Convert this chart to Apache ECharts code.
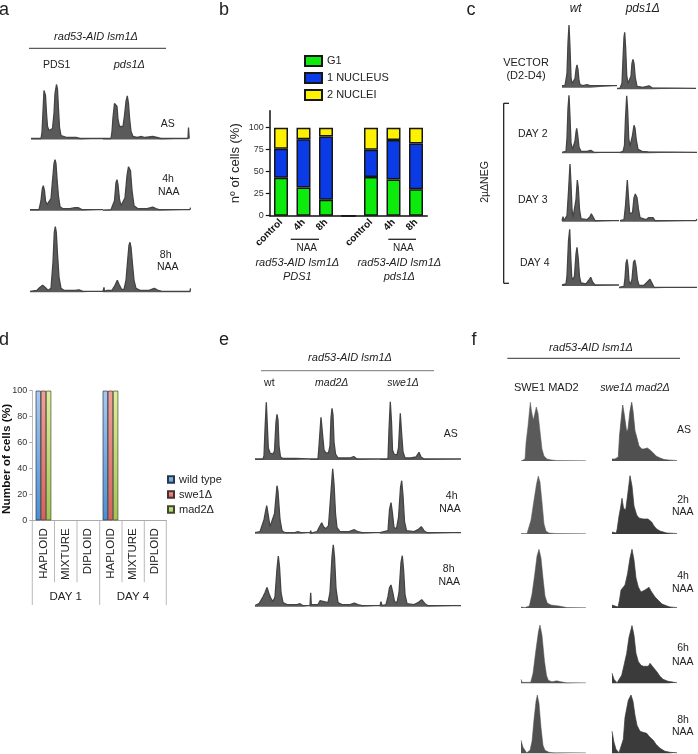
<!DOCTYPE html>
<html><head><meta charset="utf-8">
<style>html,body{margin:0;padding:0;background:#fff}#c{width:698px;height:754px}</style>
<script src="https://cdn.jsdelivr.net/npm/echarts@6/dist/echarts.min.js"></script>
</head><body><div id="c"></div>
<script>
// ---------- panel b values ----------
const bCategories = ['control','4h','8h','','control','4h','8h'];
const bG1 = [43,32,18,0,44,41,30];
const bNucleus1 = [33,55,72,0,31,45,52];
const bNuclei2 = [24,13,10,0,25,14,18];
// ---------- panel d values ----------
const dCategories = ['HAPLOID','MIXTURE','DIPLOID','HAPLOID','MIXTURE','DIPLOID'];
const dWild = [100,0,0,100,0,0];
const dSwe1 = [100,0,0,100,0,0];
const dMad2 = [100,0,0,100,0,0];
const bTicks = [0,25,50,75,100];
// ---------- histograms: [channel, count] ----------
const aAS_PDS1=[[0,1],[1,3],[2,2],[4,1],[10,1],[11,7],[12,28],[13,49],[13.5,51],[14.5,44],[15.5,26],[16.5,13],[18,9],[20,8],[21.5,11],[23,26],[24,46],[25.5,55],[26.5,50],[27.5,30],[28.5,12],[30,4],[32,2],[36,2],[38,3],[41,2],[45,2],[47,3],[49,1],[72,1]];
const aAS_pds1=[[0,1],[8,1],[9,8],[10,22],[11.5,36],[12.7,37.7],[14,33],[15,20],[16.5,13],[18.5,11],[20,13],[21.5,24],[23,38],[24.3,43.7],[25.5,36],[26.5,22],[28,8],[30,3],[34,2],[38.7,3],[42,2],[49.7,3],[54,2],[58,1],[85,1],[85.5,12],[86,12],[86.2,1]];
const a4h_PDS1=[[0,1],[9,1],[10,3],[11,10],[12.3,22],[13.3,25],[14.5,20],[15.5,10],[17,6],[19,6],[21,12],[22.5,30],[24,47],[25,51],[26,47],[27,32],[28.5,14],[30,4],[33,2],[40,2],[45,3],[48,3],[52,1],[73,1]];
const a4h_pds1=[[0,0.5],[1,2],[1.5,0.5],[8,1],[10,3],[11.5,10],[13,28],[14,31],[15,26],[16.5,11],[18,5],[20,5],[22,13],[24,35],[25.5,44],[26.5,46],[27.5,40],[29,20],[31,5],[35,2],[44,2],[49.7,3.5],[53,2],[56,1],[87,1],[87.5,3]];
const a8h_PDS1=[[0,1],[7,2],[10,5],[12.7,7],[15,5],[18,2],[21,4],[23,30],[24.3,60],[25.3,65.6],[26.3,60],[27.5,38],[29,15],[31,4],[34,2],[45,2],[49,2.5],[53,1],[73,1]];
const a8h_pds1=[[0,1],[1,5],[1.5,1],[4,2],[9,2],[12,7],[14.3,12],[16,8],[18.5,3],[21,3],[23,12],[25,36],[26,47],[27,50],[28,45],[29.5,28],[31,12],[33,4],[37,2],[46,2],[51.3,4],[55,2],[59,1],[87,1],[87.5,4]];

const cVEC_wt=[[0,2],[3,2],[4,4],[5,14],[6,45],[7,62.7],[8,40],[9,10],[10,4],[12,3],[13,9],[14,18],[15,22.7],[16,18],[17,7],[18,3],[21,2],[25,3],[28,2],[55,2]];
const cVEC_pds1=[[0,1],[3,1],[5,6],[6,30],[7,52],[7.7,57],[8.7,40],[9.7,14],[11,6],[12.5,5],[14,13],[15,26],[16,30],[17,26],[18.2,12],[20,3],[26,2],[32,3.5],[35,1.5],[79,1]];
const cD2_wt=[[0,1],[1,3],[2,1],[4,2],[5,15],[6,45],[7,58],[8,36],[9,10],[10.5,4],[12,4],[13,12],[14,21],[14.7,25],[15.7,18],[17,6],[19,2],[25,2],[28.7,3],[32,1],[58,1]];
const cD2_pds1=[[0,1],[3,2],[4.5,8],[5.5,35],[6.7,57.6],[7.7,42],[8.7,15],[10,7],[11.5,7],[12.5,18],[14,28],[15,25],[16.2,14],[18,4],[22,2],[28,1.5],[77,1]];
const cD3_wt=[[0,1],[1,5],[2,1],[4,2],[5,6],[6.5,30],[8,57.7],[9,38],[10,12],[11,4],[13,5],[14,22],[15.3,41.7],[16.3,34],[17.5,12],[19,3],[25,2],[28,5],[29.3,8],[31,5],[33,1],[57,1]];
const cD3_pds1=[[0,1],[1,3],[2,1],[4,2],[5.5,16],[7.3,41.7],[8.5,24],[9.7,8],[11,6],[12.5,9],[14,24],[15.3,27.7],[17,24],[18.5,12],[20,4],[26,2],[28.5,4],[30.3,5],[33,4],[35,1],[76,1],[77,2.5]];
const cD4_wt=[[0,1],[1,3],[2,1],[4,2],[5,10],[6.5,45],[7.7,56.7],[8.7,30],[9.7,9],[11,6],[12.5,10],[14,32],[15,38.7],[16.2,28],[17.5,9],[19,3],[24,2],[27,6],[28.7,8.7],[30.5,4],[33,1],[57,1]];
const cD4_pds1=[[0,1],[5,2],[6,10],[7,25],[8,29],[9,22],[10,7],[11.5,4],[13,9],[14.5,26],[15.7,28.3],[17,22],[18.5,8],[20,3],[25,3],[28,6],[30,8],[31,9],[33,5],[35,1],[78,1]];

const eAS_wt=[[0,1],[8,1],[9,4],[10,30],[11.3,57.7],[12.3,35],[13.3,12],[15,7],[18,6],[19.5,9],[21,38],[22,45.7],[23,40],[24,14],[25.5,3],[28,1.5],[40,1.5],[55,1]];
const eAS_mad2=[[0,1],[8,1],[9,14],[11,42.7],[12.5,26],[14,10],[16,7],[18.5,7],[20,14],[21,42],[22,51.7],[23,45],[24,18],[25.5,6],[28,2],[40,2],[43.7,3.5],[47,1],[70,1]];
const eAS_swe1=[[0,1],[8,1],[9,30],[10.3,58.3],[11.5,38],[12.5,10],[14,6],[17,5],[18.5,12],[20.3,46.7],[21.5,28],[23,8],[25,2],[28,2],[29.3,3],[31,2],[36,3],[39,7.7],[41,3],[44,1],[81,1]];
const e4h_wt=[[0,1],[5,2],[7,8],[9,14],[11.7,28],[13,20],[15,7],[17,6],[19.5,20],[22,48],[23,42],[25,14],[27,3],[30,1],[40,1],[42.7,2],[46,1],[55,1]];
const e4h_mad2=[[0,0],[0.7,3],[1.3,0.5],[7,2],[9,6],[11.7,11],[13.5,7],[16,5],[18.5,8],[20.5,35],[22.7,65],[24,50],[25.5,20],[27,6],[30,2],[39,2],[44.3,4],[48,2],[52,1],[70,1]];
const e4h_swe1=[[0,1],[8,3],[9.5,24],[11,31],[12.5,20],[14,6],[16.5,5],[18.5,16],[20.5,46],[21.7,53],[23,38],[24.5,12],[26.5,3],[34,2],[38,4],[41.3,7],[44,3],[47,1],[81,1]];
const e8h_wt=[[0,1],[2,1],[4,3],[6,4],[8,10],[10,14],[12,19.3],[14,13],[16,8],[18,5],[20,10],[22,38],[23.3,50.7],[24.5,40],[26,14],[28,4],[32,2],[42,2],[45,3],[48,1],[55,1]];
const e8h_mad2=[[0,1],[0.7,14],[1.3,2],[3,3],[8,2],[10,6],[11.7,7],[14,5],[18,4],[20,14],[22,50],[23.3,62],[24.5,50],[26,18],[28,4],[32,2],[40,2],[44.3,3.5],[48,2],[52,1],[70,1]];
const e8h_swe1=[[0,1],[1,5],[2,1],[6,2],[8,10],[9.5,19],[11,21.7],[13,13],[14.5,5],[17,4],[19,14],[21,44],[22.3,51],[23.5,38],[25,12],[27,3],[34,2],[38,4],[41.7,7],[45,3],[48,1],[81,1]];

const fAS_L=[[0,0],[2,1],[4,2],[5,18],[7,35],[9.3,58.7],[10.5,50],[12.3,41],[13.5,46],[15.3,54],[17,48],[19,30],[21,12],[23,5],[26,2],[30.7,1],[36,0.5],[65,0.5]];
const f2h_L=[[0,0.5],[6,0.5],[7.3,2],[10,14],[13,34],[15.5,50],[17.3,58],[19,52],[21,32],[23,10],[25,3],[28,1],[34,0.5],[65,0.5]];
const f4h_L=[[0,1],[4,0.5],[8.3,2],[11,14],[13.5,32],[16,52],[18,58.7],[20,50],[22,30],[24,12],[26.3,5],[30,3],[38,2],[45.7,0.5],[65,0.5]];
const f6h_L=[[0,4],[1,1],[9.7,1],[12,10],[15,34],[17.5,52],[19,58.3],[21,48],[23.5,22],[25.5,8],[27.3,3],[31,1.5],[35.7,2.5],[40,1.5],[46,0.5],[65,0.5]];
const f8h_L=[[0,13],[2,6],[5.7,0.5],[9,3],[11,12],[13,34],[15,52],[16.3,58.3],[18,50],[20,26],[22,8],[24,3],[28,1],[33,0.5],[65,0.5]];
const fAS_R=[[0,2],[3,2],[5,1],[6.3,4],[7.5,25],[9,40],[10.7,56],[12,48],[14.7,29],[16,32],[18,50],[19.7,58.7],[21,50],[23,30],[24.7,24],[27,15],[29.7,12],[32,12],[35.3,13],[38,11],[41.3,8],[44,5],[48,3],[52,1.5],[56,1],[65,0.5]];
const f2h_R=[[0,2],[2,1],[4,1],[5,4],[7,18],[8.5,26],[10,35.7],[11.5,26],[13.7,24],[15.5,38],[18,58.3],[20,48],[22,28],[24.7,19],[27,16],[28.7,14],[31,15],[33,16],[36,15],[39.7,12],[42,8],[44.7,5],[48,3],[54.7,1],[65,0.5]];
const f4h_R=[[0,3],[2,2],[6,1],[7.5,8],[9,18],[13,23],[15.5,34],[18,50],[20,58.7],[22,48],[24,30],[26.3,21],[29,16],[31,18],[33,18],[37,20.7],[39,17],[43,11],[46,8],[50,4],[55,2],[58,1],[65,0.5]];
const f6h_R=[[0,10],[2,4],[5,0.5],[7,1],[9.7,8],[12,18],[14.7,30],[17,46],[20,57.7],[22,48],[24,30],[26.3,21.7],[29,18],[31.3,17],[36.3,17],[38,20],[39.7,21.7],[42,15],[44.7,11.7],[48,7],[51,4],[56,2],[65,0.5]];
const f8h_R=[[0,22],[2,11],[4,4],[7,0.5],[9,2],[11.3,14],[13,36],[16.3,53],[19,58.3],[21,52],[23,38],[25,28],[28,22],[31,21],[34.7,20],[37,17],[41.3,13],[44,9],[48,5],[53,2],[58,1],[65,0.5]];

// ---------- layout (data, left, width, baseline, fill, line width) ----------
const D='#5a5a5a', K='#3b3b3b', G='#505050';
const traces=[
 [aAS_PDS1,31,72,139.5,D,1.3],[aAS_pds1,103,87,139.5,D,1.3],[a4h_PDS1,30,73,210.7,D,1.3],[a4h_pds1,103,88,210.7,D,1.3],[a8h_PDS1,30,73,292.3,D,1.3],[a8h_pds1,103,88,292.3,D,1.3],
 [cVEC_wt,562,55,87.7,D,1.3],[cVEC_pds1,617,79,89.3,D,1.3],[cD2_wt,562,58,153.3,D,1.3],[cD2_pds1,620,77,153.3,D,1.3],[cD3_wt,562,57,221.7,D,1.3],[cD3_pds1,620,77,221.7,D,1.3],[cD4_wt,562,57,286,D,1.3],[cD4_pds1,619,78,288.3,D,1.3],
 [eAS_wt,255,55,460,D,1.3],[eAS_mad2,310,70,460,D,1.3],[eAS_swe1,380,81,460,D,1.3],[e4h_wt,255,55,533.7,D,1.3],[e4h_mad2,310,70,533.7,D,1.3],[e4h_swe1,380,81,533.7,D,1.3],[e8h_wt,255,55,606.7,D,1.3],[e8h_mad2,310,70,606.7,D,1.3],[e8h_swe1,380,81,606.7,D,1.3],
 [fAS_L,521,65,461,'#5a5a5a',0.5],[f2h_L,521,65,534,'#5a5a5a',0.5],[f4h_L,521,65,608,G,0.5],[f6h_L,521,65,683.3,G,0.5],[f8h_L,521,65,753.3,G,0.5],
 [fAS_R,612,65,461,G,0.7],[f2h_R,612,65,534,K,0.7],[f4h_R,612,65,608,K,0.7],[f6h_R,612,65,683.3,K,0.7],[f8h_R,612,65,753.3,K,0.7]
];
const H=80;
const grid=[],xAxis=[],yAxis=[],series=[];
traces.forEach((t,i)=>{
  grid.push({left:t[1],top:t[3]-H,width:t[2],height:H,outerBoundsMode:'none'});
  xAxis.push({type:'value',gridIndex:i,min:0,max:t[2],show:false});
  yAxis.push({type:'value',gridIndex:i,min:0,max:H,show:false});
  series.push({type:'line',xAxisIndex:i,yAxisIndex:i,data:t[0],showSymbol:false,silent:true,
    lineStyle:{color:t[5]>1?'#444':t[4],width:t[5]},areaStyle:{color:t[4],opacity:1},clip:false});
});
// panel b
const bi=grid.length;
grid.push({left:269.75,top:110.7,width:157.5,height:105,outerBoundsMode:'none'});
xAxis.push({type:'category',gridIndex:bi,data:bCategories,
  axisLine:{lineStyle:{color:'#111',width:1.5}},axisTick:{alignWithLabel:true,length:4,lineStyle:{color:'#111',width:1.2}},
  axisLabel:{interval:0,rotate:45,margin:5,fontFamily:'Liberation Sans',fontWeight:'bold',fontSize:10,color:'#111'}});
yAxis.push({type:'value',gridIndex:bi,min:0,max:119.3,
  name:'nº of cells (%)',nameLocation:'middle',nameGap:28,nameTextStyle:{fontFamily:'Liberation Sans',fontSize:13,color:'#222'},
  splitLine:{show:false},axisLine:{show:true,lineStyle:{color:'#111',width:1.5}},
  axisTick:{show:true,length:4,customValues:bTicks,lineStyle:{color:'#111',width:1.2}},
  axisLabel:{customValues:bTicks,margin:6,fontFamily:'Liberation Sans',fontSize:9,color:'#333'}});
const bStyle=c=>({color:c,borderColor:'#161616',borderWidth:1.5});
[['G1',bG1,'#0DEB0D'],['1 NUCLEUS',bNucleus1,'#0A3BE6'],['2 NUCLEI',bNuclei2,'#FFF200']].forEach(s=>{
  series.push({type:'bar',name:s[0],stack:'b',xAxisIndex:bi,yAxisIndex:bi,data:s[1],barWidth:14,itemStyle:bStyle(s[2]),silent:true});
});
// panel d
const di=grid.length;
grid.push({left:32.3,top:390.7,width:134,height:129.6,outerBoundsMode:'none'});
xAxis.push({type:'category',gridIndex:di,data:dCategories,
  axisLine:{lineStyle:{color:'#aaa'}},axisTick:{show:false},
  axisLabel:{interval:0,rotate:90,margin:8,fontFamily:'Liberation Sans',fontSize:11.5,color:'#222'}});
yAxis.push({type:'value',gridIndex:di,min:0,max:100,interval:20,
  name:'Number of cells (%)',nameLocation:'middle',nameGap:20,nameMoveOverlap:false,nameTextStyle:{fontFamily:'Liberation Sans',fontWeight:'bold',fontSize:11.8,color:'#111',padding:[0,7,0,0]},
  splitLine:{show:false},axisLine:{show:true,lineStyle:{color:'#bbb'}},axisTick:{show:true,length:3,lineStyle:{color:'#aaa'}},
  axisLabel:{margin:5,fontFamily:'Liberation Sans',fontSize:9,color:'#333'}});
const grad=(a,b)=>new echarts.graphic.LinearGradient(0,1,0,0,[{offset:0,color:a},{offset:1,color:b}]);
[['wild type',dWild,'#4a8fd2','#a9c8f0','#26384a'],['swe1Δ',dSwe1,'#d9605a','#f0a098','#4a3030'],['mad2Δ',dMad2,'#a3c455','#deeea0','#3f4a2a']].forEach(s=>{
  series.push({type:'bar',name:s[0],xAxisIndex:di,yAxisIndex:di,
    data:s[1].map(v=>v===0?{value:v,itemStyle:{opacity:0}}:v),barWidth:5.2,barGap:0,silent:true,
    itemStyle:{color:grad(s[2],s[3]),borderColor:s[4],borderWidth:0.7}});
});
// ---------- text ----------
const F='Liberation Sans';
const T=(x,y,text,size,extra)=>Object.assign({type:'text',x,y,silent:true,style:Object.assign({text,fontFamily:F,fontSize:size||10,fill:'#222',textAlign:'center',textVerticalAlign:'middle'},extra&&extra.style||{})},extra&&extra.top||{});
const I={style:{fontStyle:'italic'}};
const L=(x1,y1,x2,y2,c,w)=>({type:'line',silent:true,shape:{x1,y1,x2,y2},style:{stroke:c||'#222',lineWidth:w||1}});
const graphic=[
 // panel letters
 T(4,10,'a',18),T(224,10,'b',18),T(471,10,'c',18),T(4,340,'d',18),T(224,340,'e',18),T(474,340,'f',18),
 // a
 T(96,36.7,'rad53-AID lsm1Δ',11,I),L(29,48.3,166,48.3,'#333'),T(56.7,65,'PDS1',10.5),T(129.3,65,'pds1Δ',11,I),
 T(167.7,124,'AS',10.5),T(168,179,'4h',10.5),T(168.7,192,'NAA',10.5),T(165.7,255,'8h',10.5),T(167.7,267.3,'NAA',10.5),
 // b
 T(306.7,248,'NAA',10),L(290.7,239.3,319,239.3,'#222',1.3),T(403.3,248,'NAA',10),L(388.3,239.3,416,239.3,'#222',1.3),
 T(297.3,263.3,'rad53-AID lsm1Δ',11,I),T(297.3,276.7,'PDS1',11,I),T(399.3,263.3,'rad53-AID lsm1Δ',11,I),T(399.3,276.7,'pds1Δ',11,I),
 T(416.7,135,'*',13,{style:{fontWeight:'bold',fill:'#111'}}),T(416.7,154,'*',13,{style:{fontWeight:'bold',fill:'#0a1f70'}}),T(416.7,197,'ns',11,{style:{fill:'#13501f',fontFamily:'Open Sans'}}),
 // c
 T(575.7,9,'wt',12,I),T(642.7,9,'pds1Δ',12,I),T(526,62.7,'VECTOR',11),T(526,75.7,'(D2-D4)',11),
 T(532.7,134,'DAY 2',10.5),T(532.7,200,'DAY 3',10.5),T(534.7,263,'DAY 4',10.5),
 T(484.7,182,'2µΔNEG',10.5,{top:{rotation:Math.PI/2}}),
 L(503.7,103.3,509,103.3,'#111',1.2),L(503.7,103.3,503.7,283.3,'#111',1.2),L(503.7,283.3,509,283.3,'#111',1.2),
 // d
 ...[32.3,99.7,166.3].map(x=>L(x,520,x,605,'#bbb')),...[54.5,77,122,144.3].map(x=>L(x,520,x,582.3,'#bbb')),
 T(65.7,597.3,'DAY 1',11.5),T(133,597.3,'DAY 4',11.5),
 // e
 T(350,358.3,'rad53-AID lsm1Δ',11,I),L(261,370.7,434,370.7,'#777'),T(269.3,383.3,'wt',10.5),T(331.7,383.3,'mad2Δ',10.5,I),T(403,383.3,'swe1Δ',10.5,I),
 T(450.7,434.3,'AS',10.5),T(451.7,496,'4h',10.5),T(450,509,'NAA',10.5),T(448.7,569,'8h',10.5),T(449.3,581.7,'NAA',10.5),
 // f
 T(591,347.7,'rad53-AID lsm1Δ',11,I),L(507.3,358.3,680,358.3,'#333'),T(546.3,388.3,'SWE1 MAD2',11),T(635,388.3,'swe1Δ mad2Δ',10.8,I),
 T(684,430,'AS',10.5),T(683,500,'2h',10.5),T(682.7,512.3,'NAA',10.5),T(683,576,'4h',10.5),T(682.7,589,'NAA',10.5),
 T(683,648.3,'6h',10.5),T(682.7,661.7,'NAA',10.5),T(683,720,'8h',10.5),T(682.7,732.3,'NAA',10.5)
];
const legend=[
 {data:['G1','1 NUCLEUS','2 NUCLEI'],orient:'vertical',left:304,top:55,padding:0,icon:'rect',itemWidth:17,itemHeight:10,itemGap:5,selectedMode:false,
  textStyle:{fontFamily:F,fontSize:11,color:'#222'}},
 {data:['wild type','swe1Δ','mad2Δ'],orient:'vertical',left:167,top:474,padding:0,icon:'rect',itemWidth:6,itemHeight:6.5,itemGap:4,selectedMode:false,
  textStyle:{fontFamily:F,fontSize:11,color:'#222'}}
];
const chart=echarts.init(document.getElementById('c'),null,{renderer:'canvas'});
chart.setOption({animation:false,backgroundColor:'#fff',grid,xAxis,yAxis,series,legend,graphic});
</script></body></html>
